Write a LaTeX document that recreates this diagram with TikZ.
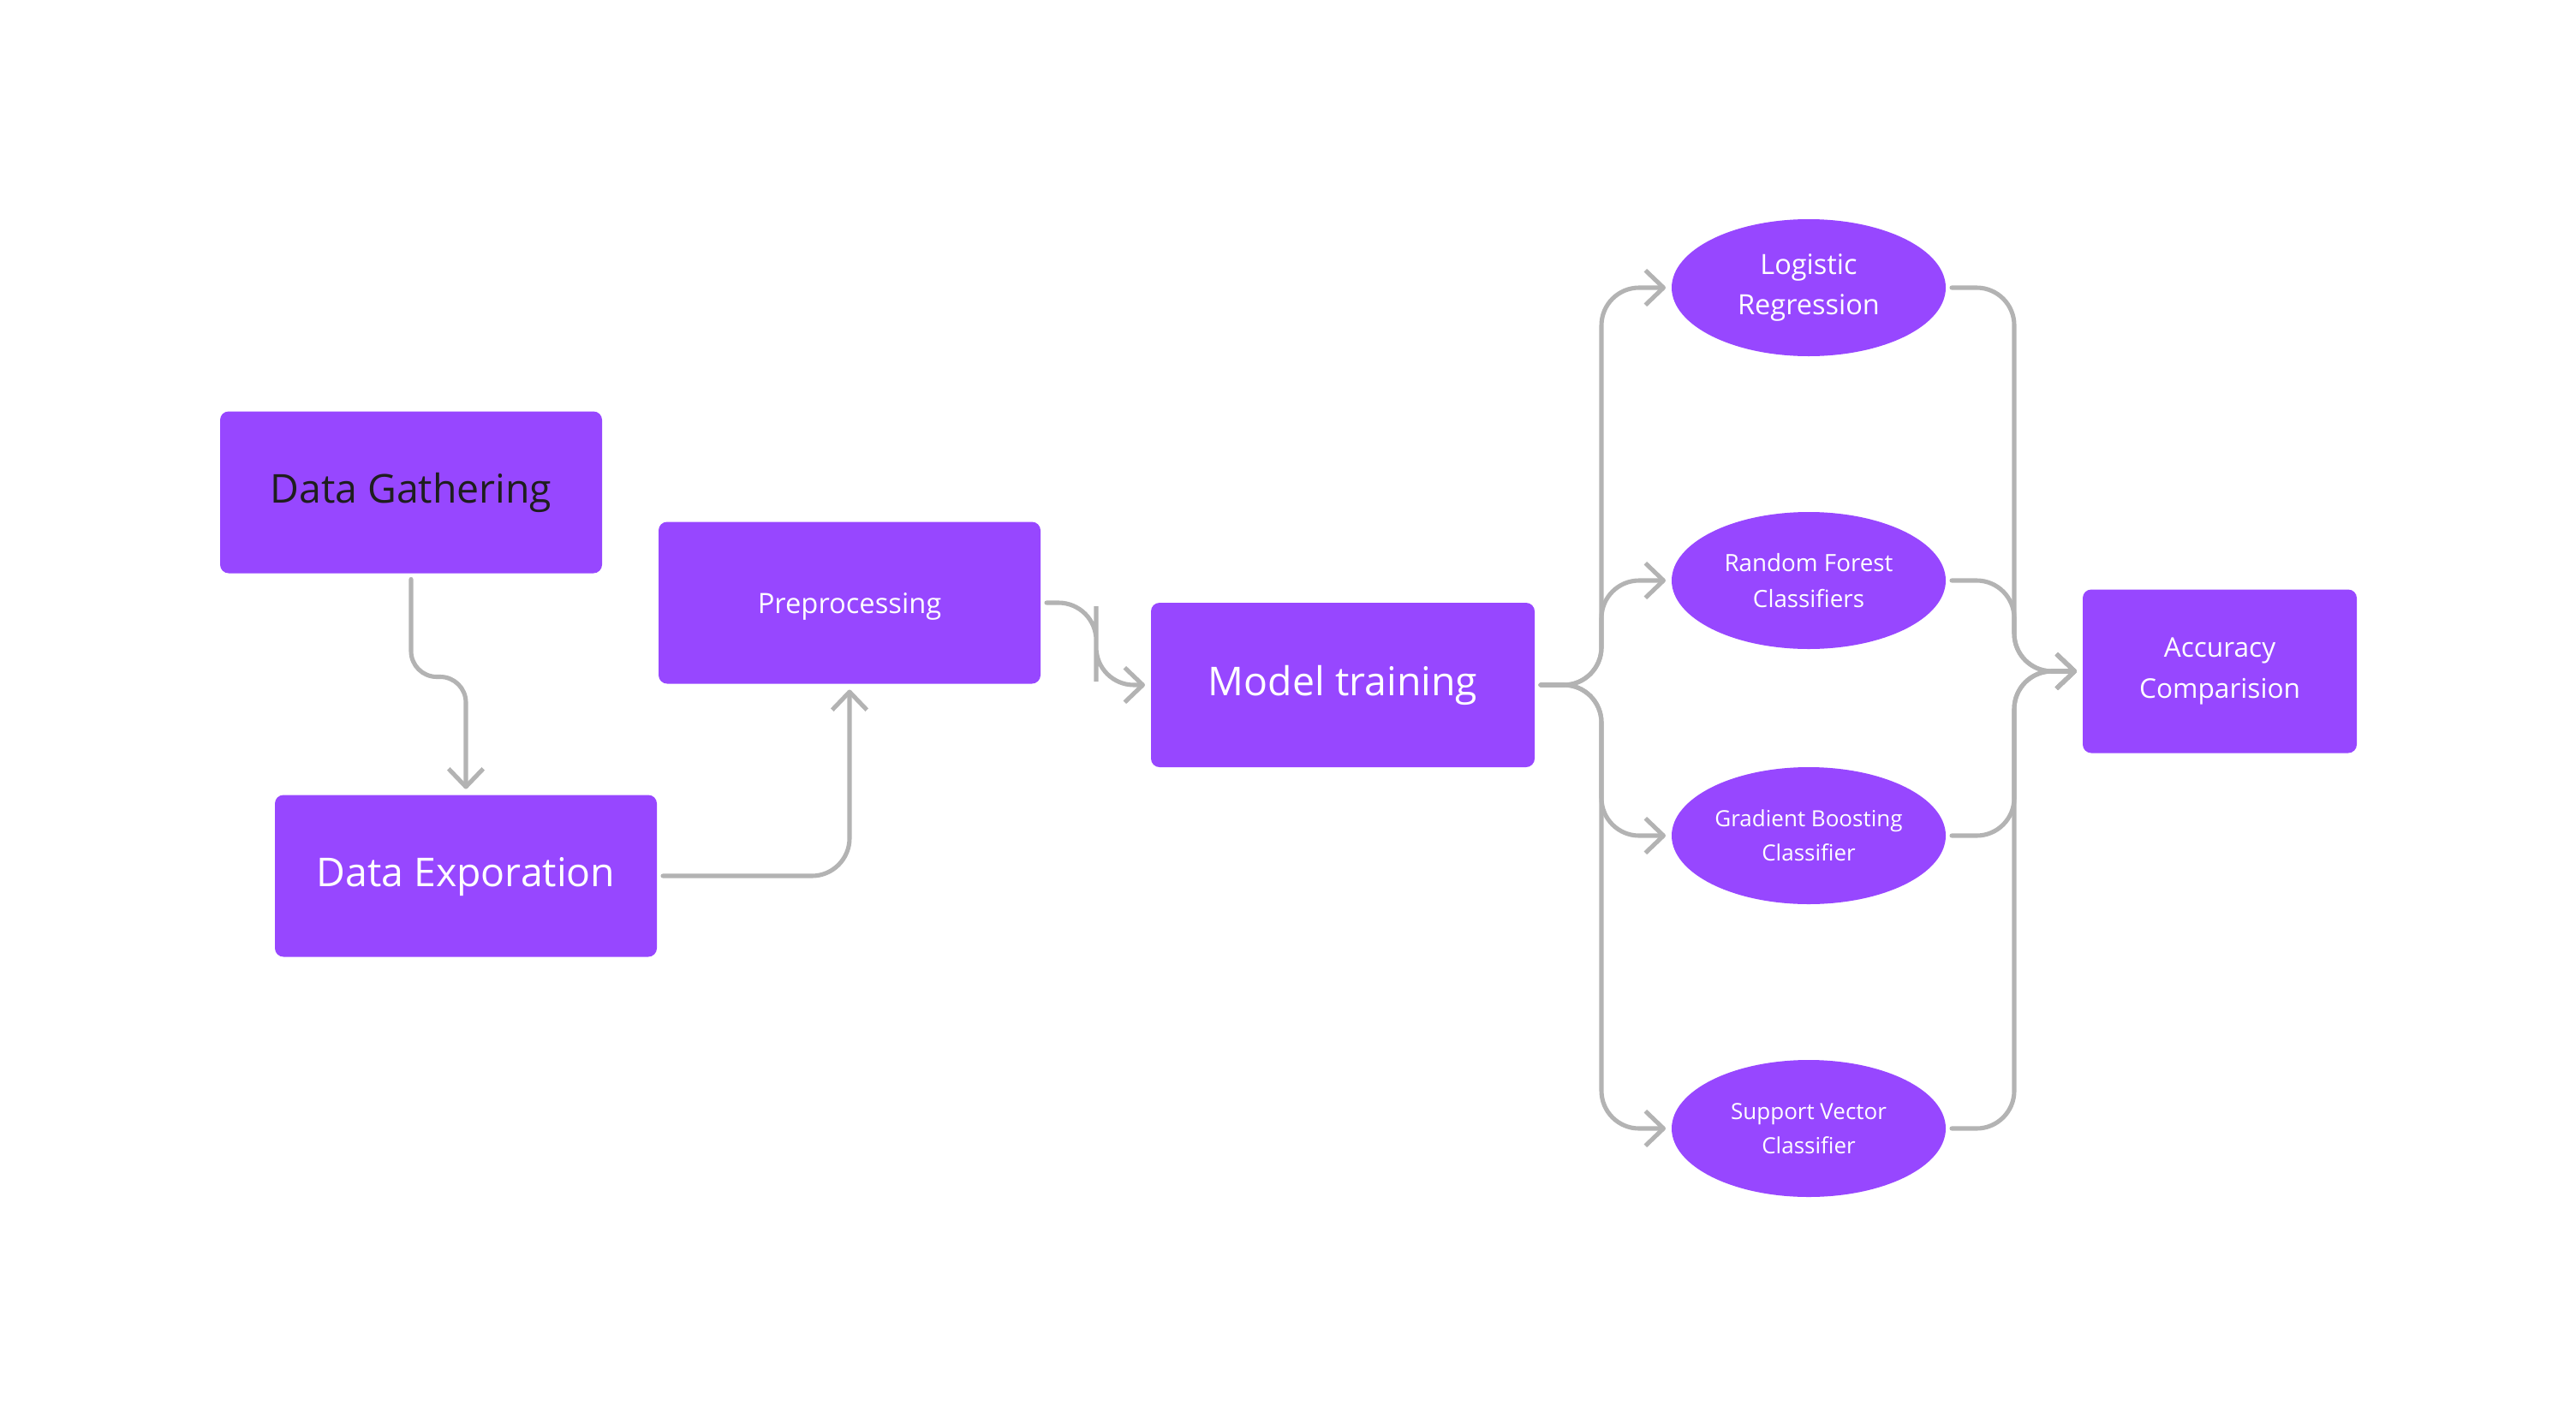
\documentclass[tikz,border=0pt]{standalone}
\usepackage{fontspec}
\setmainfont{Open Sans}
\usetikzlibrary{arrows.meta, shapes.geometric}
\definecolor{figpurple}{HTML}{9747FF}
\definecolor{linegray}{HTML}{B3B3B3}
\definecolor{darktext}{HTML}{1E1E1E}
\newcommand{\fsize}[2]{\fontsize{#1}{#2}\selectfont}

\begin{document}
\begin{tikzpicture}[
    box/.style = {fill = figpurple, rounded corners = 0.1cm, minimum width = 4.46cm,
                  minimum height = 1.89cm, outer sep = 0.07cm, text = white, align = center},
    oneline/.style = {text height = 0.72em, text depth = 0pt},
    algo/.style = {ellipse, fill = figpurple, minimum width = 3.2cm, minimum height = 1.6cm,
                   inner sep = 0pt, outer sep = 0.07cm, text = white, align = center},
    flow/.style = {draw = linegray, line width = 1.45pt, rounded corners = 0.44cm,
                   line cap = round, -{Straight Barb[length = 6pt, width = 11.5pt, line join = round]}}
]
\useasboundingbox (0, 0) rectangle (30.08, -16.54);

\node[box, oneline, text = darktext, font = \fsize{13.2}{16}] (gather) at (4.80, -5.75) {Data Gathering};
\node[box, oneline, font = \fsize{9.3}{12}] (prep) at (9.92, -7.04) {Preprocessing};
\node[box, oneline, font = \fsize{13.2}{16}] (explore) at (5.44, -10.23) {Data Exporation};
\node[box, oneline, minimum width = 4.48cm, minimum height = 1.92cm, font = \fsize{13.2}{16}] (train) at (15.68, -8.00) {Model training};

\node[algo, font = \fsize{9.25}{13.6}] (logreg) at (21.12, -3.36) {Logistic\\Regression};
\node[algo, font = \fsize{7.9}{12}] (forest) at (21.12, -6.78) {Random Forest\\Classifiers};
\node[algo, font = \fsize{7.4}{11.5}] (boost) at (21.12, -9.76) {Gradient Boosting\\Classifier};
\node[algo, font = \fsize{7.4}{11.5}] (svc) at (21.12, -13.18) {Support Vector\\Classifier};

\node[box, minimum width = 3.2cm, minimum height = 1.91cm, font = \fsize{9}{13.6}] (acc) at (25.92, -7.84) {Accuracy\\Comparision};

% pipeline
\draw[flow, rounded corners = 0.3cm] (gather.south) -- ++(0, -1.14) -| (explore.north);
\draw[flow] (explore.east) -| (prep.south);
\draw[flow] (prep.east) -| ++(0.58, -0.48) |- (train.west);

% models
\foreach \m in {logreg, forest, boost, svc} {
  \draw[flow] (train.east) -- ++(0.71, 0) |- (\m.west);
  \draw[flow] (\m.east) -- ++(0.73, 0) |- (acc.west);
}

\end{tikzpicture}
\end{document}
